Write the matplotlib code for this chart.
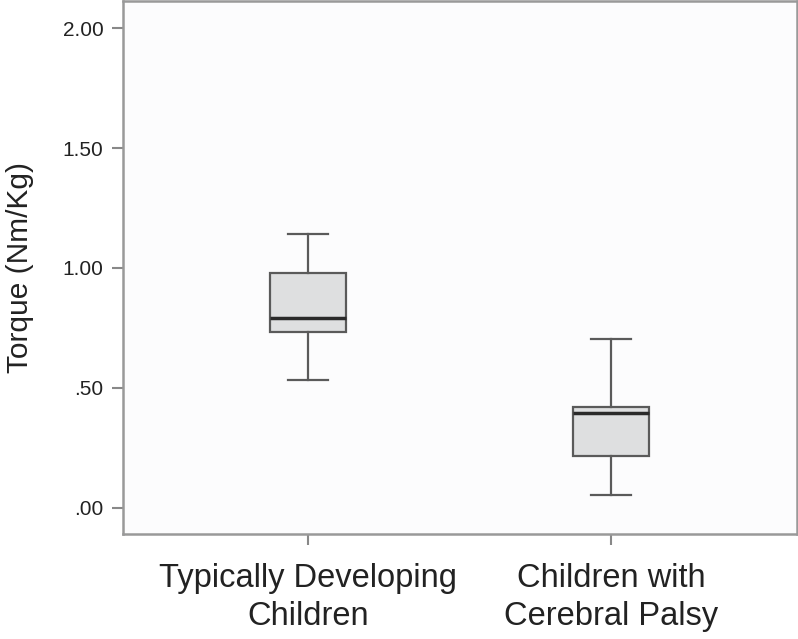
import matplotlib
matplotlib.use('Agg')
import matplotlib.pyplot as plt

groups = ['Typically Developing\nChildren', 'Children with\nCerebral Palsy']
whislo = [0.533, 0.053]
q1 = [0.734, 0.217]
med = [0.790, 0.394]
q3 = [0.978, 0.419]
whishi = [1.141, 0.704]
yticks = [0.0, 0.5, 1.0, 1.5, 2.0]
ytick_labels = ['.00', '.50', '1.00', '1.50', '2.00']

plt.rcParams['font.family'] = ['Liberation Sans', 'DejaVu Sans']

stats = []
for i in range(len(groups)):
    stats.append({'whislo': whislo[i], 'q1': q1[i], 'med': med[i],
                  'q3': q3[i], 'whishi': whishi[i], 'fliers': []})

fig = plt.figure(figsize=(7.98, 6.39), dpi=100)
ax = fig.add_axes([123/798, 1 - 534/639, 674/798, 533/639])
ax.set_facecolor('#fcfcfd')

edge = '#5a5a5a'
ax.bxp(stats, positions=[1, 2], widths=0.25, patch_artist=True,
       showfliers=False,
       boxprops=dict(facecolor='#dedfe0', edgecolor=edge, linewidth=1.6),
       whiskerprops=dict(color=edge, linewidth=1.6),
       capprops=dict(color=edge, linewidth=1.6),
       medianprops=dict(color='#2a2a2a', linewidth=2.5),
       capwidths=0.13)

ax.set_xlim(0.39, 2.614)
ax.set_ylim(-0.11, 2.114)
ax.set_yticks(yticks)
ax.set_yticklabels(ytick_labels, fontsize=15)
ax.set_xticks([1, 2])
ax.set_xticklabels(groups, fontsize=23.5, color='#222222', linespacing=1.3)
ax.tick_params(axis='both', colors='#888888', length=8, width=1.5, pad=6)
for lab in ax.get_yticklabels():
    lab.set_color('#222222')
for lab in ax.get_xticklabels():
    lab.set_color('#222222')
ax.tick_params(axis='x', pad=13)
for s in ax.spines.values():
    s.set_color('#999999')
    s.set_linewidth(1.8)

ax.set_ylabel('Torque (Nm/Kg)', fontsize=21.5, color='#222222', labelpad=21)

fig.savefig('out.png', dpi=100)
